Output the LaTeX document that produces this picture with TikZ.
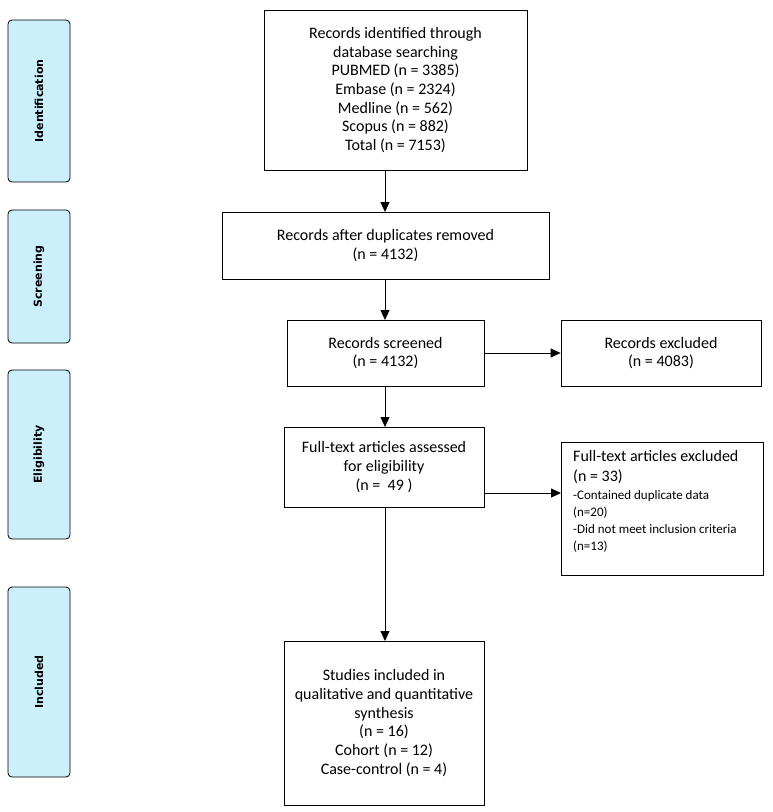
\documentclass[tikz,border=0pt]{standalone}
\usepackage{fontspec}
\setmainfont{Carlito}
\newfontfamily\sidefont{DejaVu Sans}
\usetikzlibrary{arrows.meta}
\begin{document}
\begin{tikzpicture}[x=1pt,y=-1pt,
  box/.style={draw,line width=0.8pt,inner sep=0pt,align=center,font=\fontsize{16}{18.7}\selectfont},
  side/.style={draw,line width=0.8pt,rounded corners=4pt,fill=cyan!20!white},
  arr/.style={-{Triangle[length=10pt,width=9pt]},line width=0.8pt}]
\useasboundingbox (0,0) rectangle (773,812);
\newcommand{\bx}[6]{\node[box,minimum width=#4-#2,minimum height=#5-#3] (#1) at ({(#2+#4)/2},{(#3+#5)/2}) {#6};}
\bx{id}{264}{10}{527}{170}{Records identified through\\database searching\\PUBMED (n = 3385)\\Embase (n = 2324)\\Medline (n = 562)\\Scopus (n = 882)\\Total (n = 7153)}
\bx{dup}{222}{212}{549}{279}{Records after duplicates removed\\(n = 4132)}
\bx{scr}{287}{320}{484}{386}{Records screened\\(n = 4132)}
\bx{exc}{561}{320}{761}{386}{Records excluded\\(n = 4083)}
\bx{ft}{284}{427}{484}{507}{Full-text articles assessed\\for eligibility\\(n =\ \ 49 )}
\bx{inc}{284}{641}{484}{805}{Studies included in\\qualitative and quantitative\\synthesis\\(n = 16)\\Cohort (n = 12)\\Case-control (n = 4)}
\node[draw,line width=0.8pt,minimum width=202pt,minimum height=133pt,inner sep=0pt] (ftx) at (662,508.5) {};
\node[anchor=north west,align=left,inner sep=0pt,font=\fontsize{16}{20}\selectfont] (ftxt) at (573,450) {Full-text articles excluded\\(n = 33)};
\node[anchor=north west,align=left,inner sep=0pt,font=\fontsize{13}{17}\selectfont] (ftxt2) at (573,490) {-Contained duplicate data\\(n=20)\\-Did not meet inclusion criteria\\(n=13)};
\foreach \n/\a/\b/\t in {s1/20/182/Identification,s2/210/343/Screening,s3/370/539/Eligibility,s4/587/777/Included}{
  \node[side,minimum width=62pt,minimum height=\b-\a] (\n) at (39,{(\a+\b)/2}) {};
  \node[rotate=90,font=\sidefont\bfseries\fontsize{11}{13}\selectfont] (\n t) at (\n) {\t};
}
\coordinate (a1) at (385,170); \coordinate (a2) at (385,212);
\draw[arr] (a1) -- (a2);
\coordinate (b1) at (385,279); \coordinate (b2) at (385,320);
\draw[arr] (b1) -- (b2);
\coordinate (c1) at (385,386); \coordinate (c2) at (385,427);
\draw[arr] (c1) -- (c2);
\coordinate (d1) at (385,507); \coordinate (d2) at (385,641);
\draw[arr] (d1) -- (d2);
\draw[arr] (scr.east) -- (exc.west);
\coordinate (e1) at (484,493); \coordinate (e2) at (561,493);
\draw[arr] (e1) -- (e2);
\end{tikzpicture}
\end{document}
